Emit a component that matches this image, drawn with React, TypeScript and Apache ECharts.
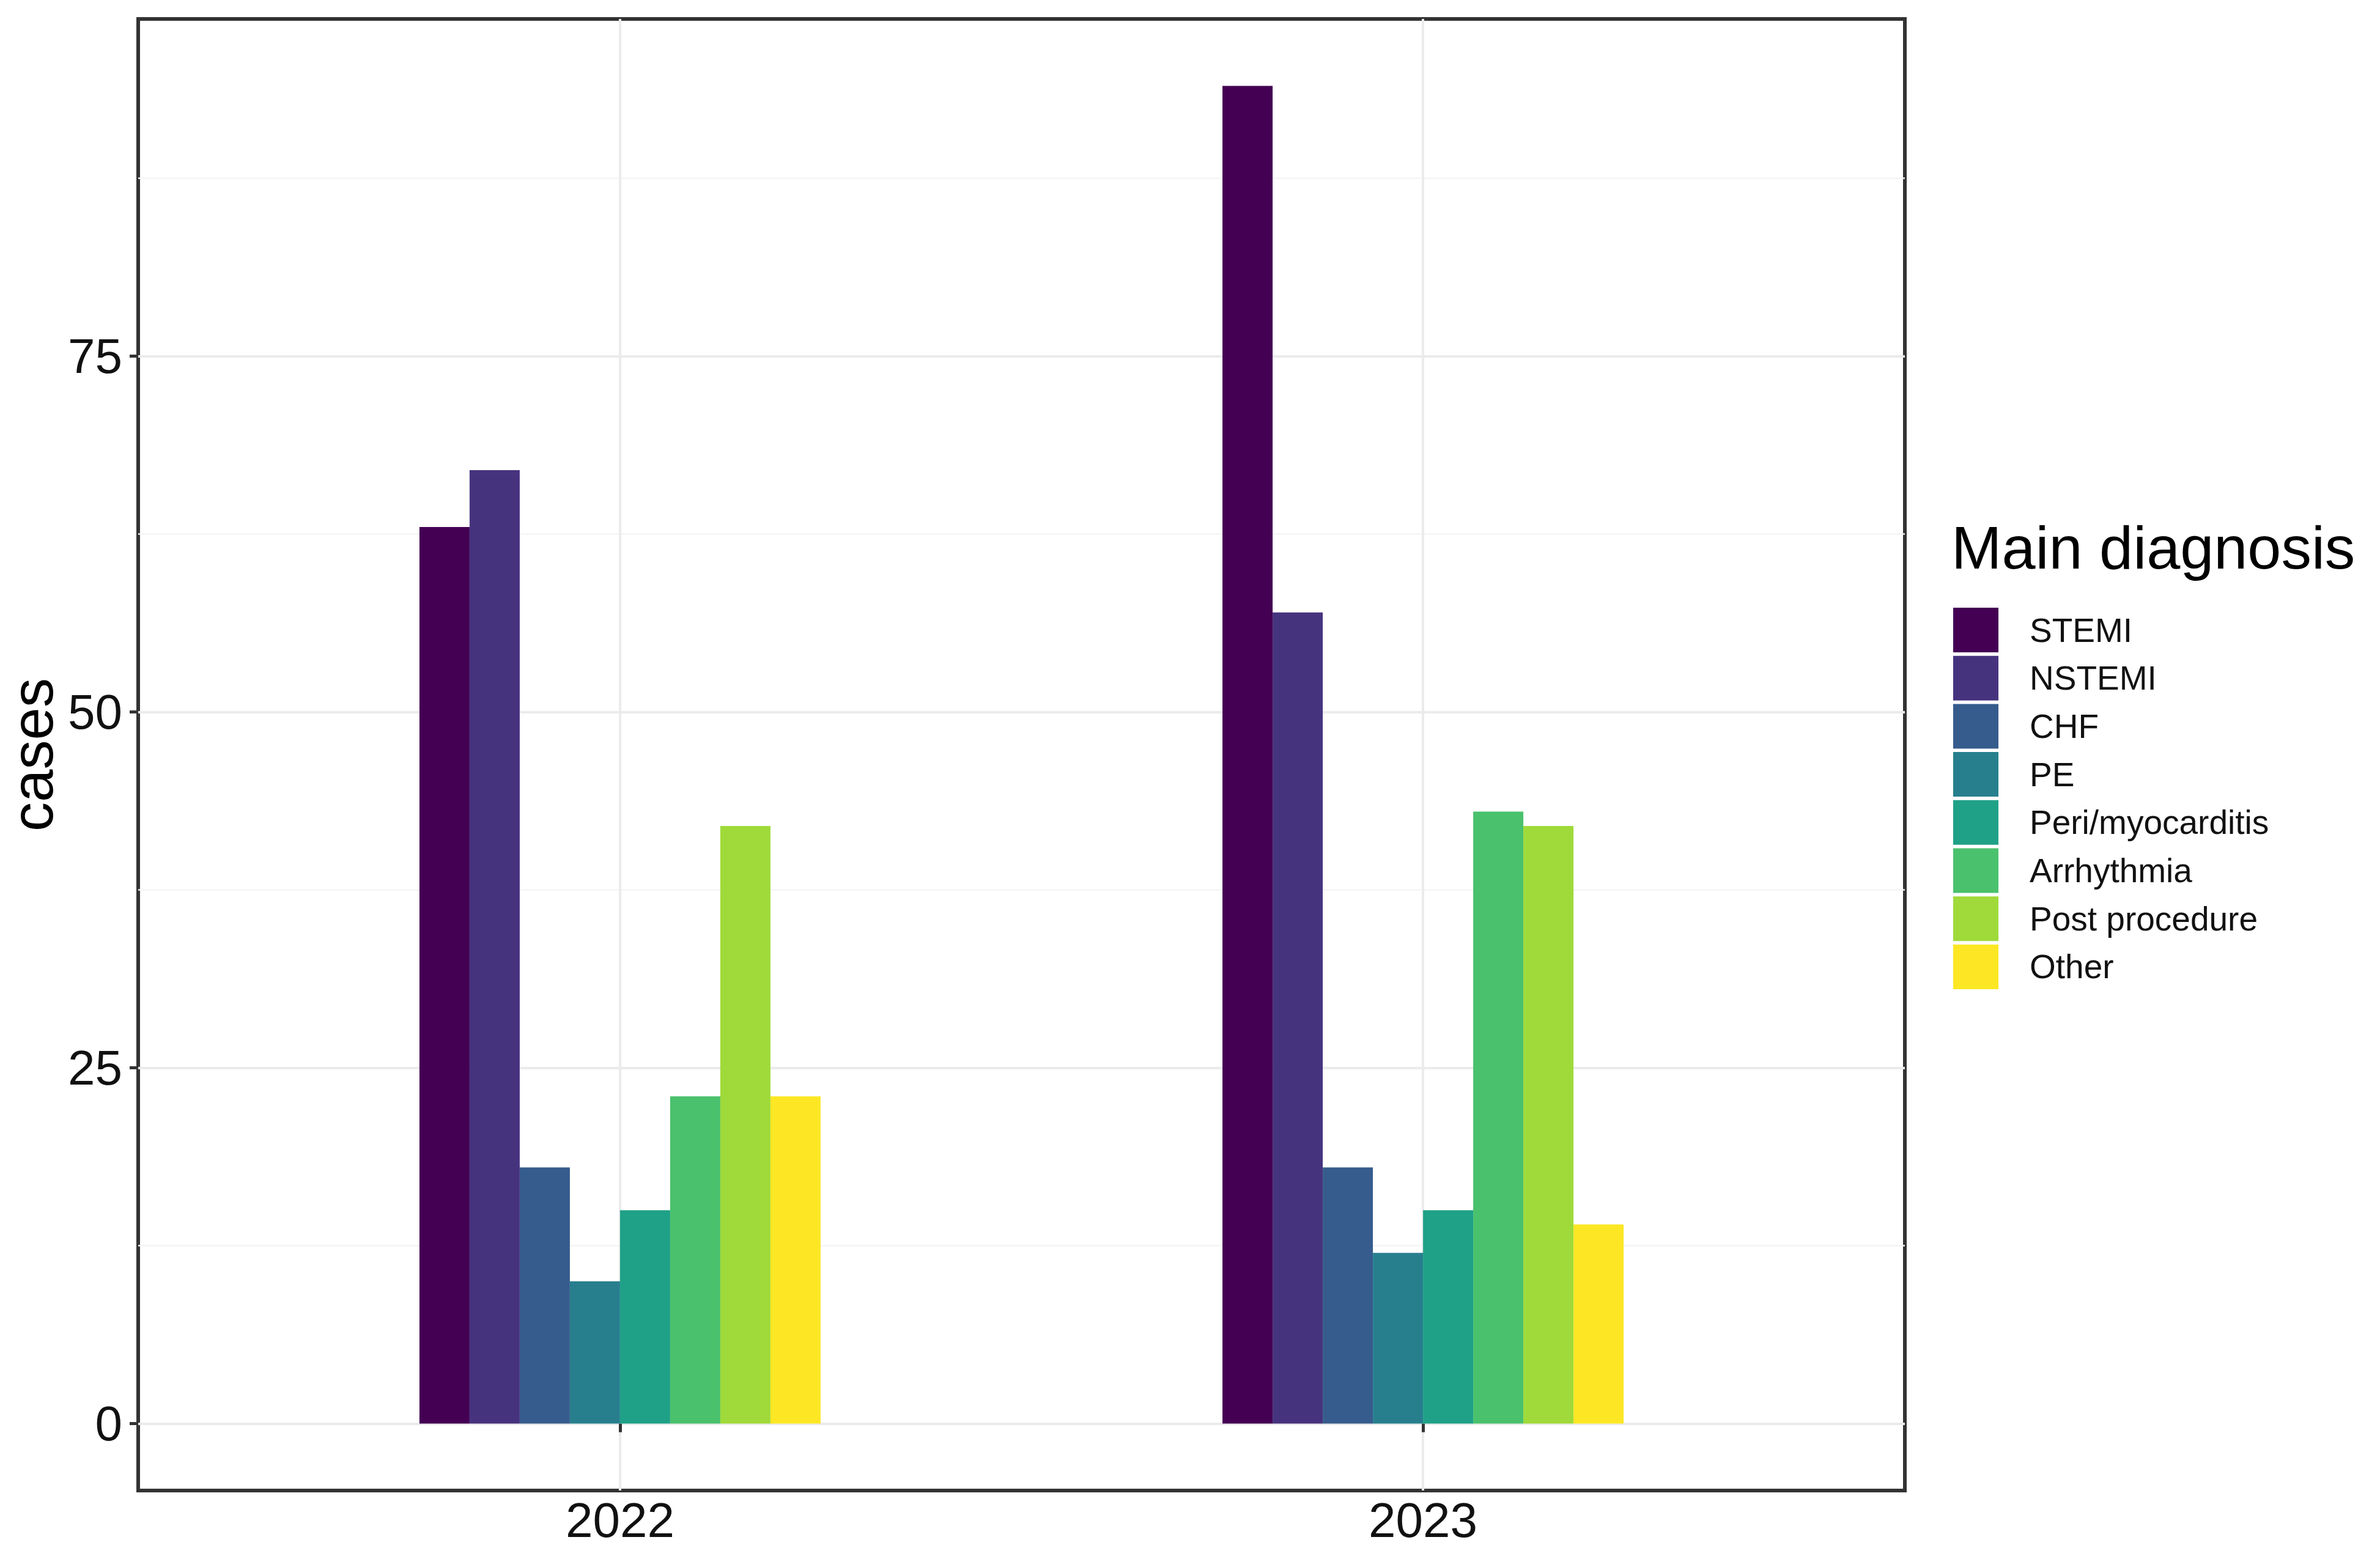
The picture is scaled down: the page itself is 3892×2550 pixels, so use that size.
import React, { useEffect, useRef } from "react";
import * as echarts from "echarts";

const years = ["2022", "2023"];
const yearPositions = [1, 2];
const diagnoses = [
  "STEMI",
  "NSTEMI",
  "CHF",
  "PE",
  "Peri/myocarditis",
  "Arrhythmia",
  "Post procedure",
  "Other",
];
const cases2022 = [63, 67, 18, 10, 15, 23, 42, 23];
const cases2023 = [94, 57, 18, 12, 15, 43, 42, 14];
const yMajorTicks = [0, 25, 50, 75];
const yMinorTicks = [12.5, 37.5, 62.5, 87.5];
const colors = [
  "#440154",
  "#46337E",
  "#365C8D",
  "#277F8E",
  "#1FA187",
  "#4AC16D",
  "#9FDA3A",
  "#FDE725",
];

const FONT = "Liberation Sans, Arial, Helvetica, sans-serif";

export default function App() {
  const ref = useRef<HTMLDivElement | null>(null);

  useEffect(() => {
    if (!ref.current) return;
    const chart = echarts.init(ref.current, undefined, { renderer: "svg" });

    const dataMax = Math.max(...cases2022, ...cases2023);
    const pad = dataMax * 0.05;
    const yMin = -pad;
    const yMax = dataMax + pad;

    const series = diagnoses.map((name, i) => ({
      name,
      type: "bar",
      barWidth: 82,
      barGap: "0%",
      itemStyle: { color: colors[i] },
      data: yearPositions.map((x, j) => [x, j === 0 ? cases2022[i] : cases2023[i]]),
    }));

    const option: any = {
      animation: false,
      backgroundColor: "#ffffff",
      color: colors,
      grid: {
        left: 226,
        top: 31,
        right: 3892 - 3115,
        bottom: 2550 - 2438,
        show: true,
        borderColor: "#333333",
        borderWidth: 6,
        backgroundColor: "#ffffff",
        containLabel: false,
        outerBoundsMode: "none",
      },
      xAxis: {
        type: "value",
        min: 0.4,
        max: 2.6,
        axisLine: { show: false },
        axisTick: {
          show: true,
          customValues: yearPositions,
          length: 14,
          lineStyle: { color: "#333333", width: 5 },
        },
        axisLabel: {
          customValues: yearPositions,
          formatter: (v: number) => {
            const k = yearPositions.indexOf(Math.round(v));
            return k >= 0 ? years[k] : "";
          },
          fontSize: 80,
          color: "#111111",
          fontFamily: FONT,
          margin: 8,
        },
        splitLine: { show: true, lineStyle: { color: "#EBEBEB", width: 4 } },
      },
      yAxis: [
        {
          type: "value",
          min: yMin,
          max: yMax,
          position: "left",
          axisLine: { show: false },
          axisTick: {
            show: true,
            customValues: yMajorTicks,
            length: 14,
            lineStyle: { color: "#333333", width: 5 },
          },
          axisLabel: {
            customValues: yMajorTicks,
            fontSize: 80,
            color: "#111111",
            fontFamily: FONT,
            margin: 26,
          },
          splitLine: { show: true, lineStyle: { color: "#EBEBEB", width: 4 } },
          name: "cases",
          nameLocation: "middle",
          nameGap: 116,
          nameTextStyle: { fontSize: 96, color: "#000000", fontFamily: FONT },
        },
        {
          type: "value",
          min: yMin,
          max: yMax,
          position: "left",
          axisLine: { show: false },
          axisTick: { show: false, customValues: yMinorTicks },
          axisLabel: { show: false, customValues: yMinorTicks },
          splitLine: { show: true, lineStyle: { color: "#F4F4F4", width: 2.5 } },
        },
      ],
      legend: {
        orient: "vertical",
        left: 3194,
        top: 994,
        itemWidth: 74,
        itemHeight: 73,
        itemGap: 5.7,
        icon: "rect",
        padding: 0,
        selectedMode: false,
        data: diagnoses,
        textStyle: {
          fontSize: 55,
          color: "#111111",
          fontFamily: FONT,
          padding: [0, 0, 0, 46],
        },
      },
      graphic: [
        {
          type: "text",
          x: 3191,
          y: 895,
          style: {
            text: "Main diagnosis",
            fontSize: 99,
            fontFamily: FONT,
            fill: "#000000",
            align: "left",
            verticalAlign: "middle",
          },
        },
      ],
      series,
    };

    chart.setOption(option);
    return () => chart.dispose();
  }, []);

  return (
    <div
      ref={ref}
      style={{ position: "absolute", left: 0, top: 0, width: 3892, height: 2550 }}
    />
  );
}
